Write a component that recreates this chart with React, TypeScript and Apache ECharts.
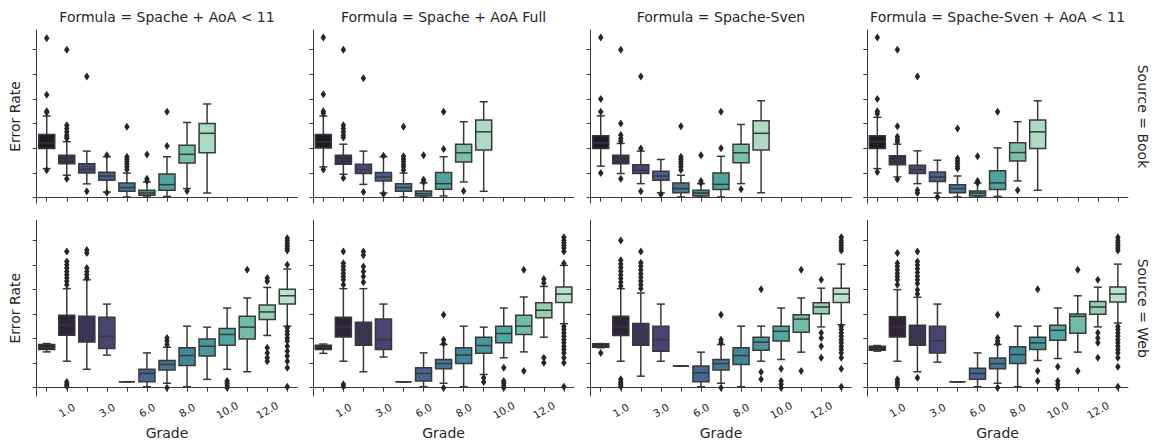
import React, { useEffect, useRef } from "react";
import * as echarts from "echarts";

// ---------------- data ----------------
const grades = ["0.0", "1.0", "2.0", "3.0", "5.0", "6.0", "7.0", "8.0", "9.0", "10.0", "11.0", "12.0", "13.0"];
const formulas = ["Spache + AoA < 11", "Spache + AoA Full", "Spache-Sven", "Spache-Sven + AoA < 11"];
const sources = ["Book", "Web"];
const yTicks = [0, 0.1, 0.2, 0.3, 0.4, 0.5, 0.6];

// mako palettes, desaturated to 0.75 like seaborn's boxplot
const bookPalette = ["#221928", "#382F50", "#484876", "#45608B", "#447795", "#448D9A", "#4EA59F", "#79C0AA", "#ACDAC2"];
const webPalette = ["#241B2D", "#2E2237", "#3A3455", "#484573", "#465682", "#446691", "#447795", "#428799", "#48979C", "#4FA8A1", "#71BCA9", "#94CFB1", "#BAE1CC"];

// box stats: [min whisker, Q1, median, Q3, max whisker]
const bookStatsAoA11 = [
  [0.118, 0.199, 0.222, 0.256, 0.331], [0.091, 0.138, 0.155, 0.172, 0.227], [0.056, 0.1, 0.115, 0.138, 0.189],
  [0.023, 0.071, 0.088, 0.103, 0.166], [0.003, 0.026, 0.041, 0.06, 0.1], [0.003, 0.01, 0.019, 0.03, 0.064],
  [0.005, 0.03, 0.053, 0.096, 0.166], [0.037, 0.141, 0.176, 0.213, 0.305], [0.019, 0.182, 0.261, 0.301, 0.38],
];
const bookStatsAoAFull = [
  [0.125, 0.202, 0.227, 0.256, 0.331], [0.095, 0.136, 0.155, 0.172, 0.217], [0.054, 0.098, 0.114, 0.136, 0.189],
  [0.019, 0.068, 0.084, 0.102, 0.166], [0.003, 0.026, 0.041, 0.057, 0.1], [0.003, 0.007, 0.016, 0.027, 0.06],
  [0.007, 0.034, 0.057, 0.102, 0.166], [0.064, 0.145, 0.182, 0.217, 0.308], [0.026, 0.193, 0.267, 0.315, 0.389],
];
const bookStatsSven = [
  [0.128, 0.199, 0.222, 0.251, 0.332], [0.098, 0.138, 0.155, 0.172, 0.22], [0.057, 0.098, 0.111, 0.134, 0.189],
  [0.02, 0.071, 0.088, 0.107, 0.155], [0.003, 0.02, 0.037, 0.06, 0.091], [0.003, 0.007, 0.019, 0.03, 0.057],
  [0.003, 0.033, 0.054, 0.1, 0.168], [0.057, 0.142, 0.182, 0.217, 0.297], [0.02, 0.193, 0.261, 0.312, 0.393],
];
const bookStatsSvenAoA11 = [
  [0.118, 0.199, 0.227, 0.251, 0.326], [0.084, 0.134, 0.152, 0.17, 0.217], [0.057, 0.098, 0.114, 0.132, 0.19],
  [0.019, 0.066, 0.084, 0.104, 0.152], [0.003, 0.02, 0.037, 0.053, 0.088], [0.003, 0.007, 0.019, 0.027, 0.06],
  [0.005, 0.033, 0.06, 0.109, 0.202], [0.068, 0.149, 0.183, 0.223, 0.308], [0.03, 0.199, 0.267, 0.315, 0.393],
];

const webStatsAoA11 = [
  [0.146, 0.156, 0.165, 0.176, 0.18], [0.108, 0.214, 0.255, 0.295, 0.404], [0.075, 0.186, 0.226, 0.291, 0.44],
  [0.133, 0.16, 0.21, 0.287, 0.341], [0.024, 0.024, 0.024, 0.024, 0.024], [0.004, 0.024, 0.058, 0.075, 0.142],
  [0.018, 0.072, 0.095, 0.111, 0.165], [0.004, 0.091, 0.131, 0.163, 0.251], [0.034, 0.129, 0.169, 0.199, 0.247],
  [0.075, 0.173, 0.217, 0.241, 0.325], [0.065, 0.199, 0.247, 0.291, 0.366], [0.213, 0.278, 0.309, 0.337, 0.409],
  [0.251, 0.341, 0.375, 0.402, 0.484],
];
const webStatsAoAFull = [
  [0.14, 0.156, 0.165, 0.173, 0.178], [0.108, 0.207, 0.248, 0.287, 0.404], [0.065, 0.173, 0.217, 0.267, 0.404],
  [0.125, 0.156, 0.196, 0.28, 0.341], [0.024, 0.024, 0.024, 0.024, 0.024], [0.004, 0.027, 0.058, 0.081, 0.142],
  [0.018, 0.077, 0.098, 0.115, 0.176], [0.004, 0.099, 0.133, 0.163, 0.251], [0.054, 0.14, 0.172, 0.206, 0.247],
  [0.122, 0.183, 0.221, 0.251, 0.325], [0.146, 0.217, 0.251, 0.295, 0.37], [0.206, 0.285, 0.316, 0.346, 0.413],
  [0.261, 0.348, 0.382, 0.411, 0.499],
];
const webStatsSven = [
  [0.163, 0.165, 0.172, 0.179, 0.18], [0.108, 0.213, 0.248, 0.291, 0.404], [0.047, 0.173, 0.213, 0.262, 0.386],
  [0.108, 0.149, 0.196, 0.251, 0.341], [0.088, 0.088, 0.088, 0.088, 0.088], [0.004, 0.024, 0.061, 0.088, 0.145],
  [0.018, 0.072, 0.098, 0.115, 0.176], [0.004, 0.095, 0.131, 0.163, 0.251], [0.108, 0.153, 0.186, 0.206, 0.251],
  [0.115, 0.19, 0.23, 0.251, 0.325], [0.145, 0.226, 0.28, 0.298, 0.366], [0.248, 0.302, 0.329, 0.346, 0.406],
  [0.257, 0.348, 0.382, 0.406, 0.504],
];
const webStatsSvenAoA11 = [
  [0.149, 0.153, 0.161, 0.169, 0.172], [0.108, 0.207, 0.248, 0.289, 0.4], [0.065, 0.173, 0.21, 0.255, 0.369],
  [0.104, 0.142, 0.192, 0.251, 0.341], [0.024, 0.024, 0.024, 0.024, 0.024], [0.004, 0.034, 0.058, 0.079, 0.142],
  [0.018, 0.077, 0.098, 0.121, 0.176], [0.004, 0.099, 0.135, 0.167, 0.251], [0.111, 0.156, 0.183, 0.206, 0.251],
  [0.119, 0.194, 0.234, 0.255, 0.325], [0.145, 0.222, 0.291, 0.301, 0.375], [0.248, 0.3, 0.329, 0.352, 0.41],
  [0.264, 0.35, 0.382, 0.411, 0.504],
];

// outliers: [grade index, error rate]
const bookOutAoA11 = [
  [0, 0.647], [0, 0.417], [0, 0.351], [0, 0.345], [0, 0.111],
  [1, 0.6], [1, 0.294], [1, 0.281], [1, 0.267], [1, 0.254], [1, 0.247], [1, 0.24], [1, 0.077],
  [2, 0.491], [2, 0.026], [3, 0.172], [3, 0.02],
  [4, 0.288], [4, 0.166], [4, 0.156], [4, 0.146], [4, 0.136], [4, 0.125], [4, 0.114],
  [5, 0.175], [5, 0.077], [5, 0.068], [6, 0.349], [6, 0.21], [7, 0.027],
];
const bookOutAoAFull = [
  [0, 0.65], [0, 0.419], [0, 0.351], [0, 0.342], [0, 0.114],
  [1, 0.6], [1, 0.294], [1, 0.281], [1, 0.267], [1, 0.254], [1, 0.244], [1, 0.08],
  [2, 0.484], [2, 0.023], [3, 0.17], [3, 0.015],
  [4, 0.288], [4, 0.168], [4, 0.157], [4, 0.147], [4, 0.136], [4, 0.125], [4, 0.112],
  [5, 0.172], [5, 0.073], [5, 0.064], [6, 0.349], [6, 0.197], [7, 0.027],
];
const bookOutSven = [
  [0, 0.65], [0, 0.4], [0, 0.349], [0, 0.1],
  [1, 0.6], [1, 0.301], [1, 0.254], [1, 0.24], [1, 0.23], [1, 0.077],
  [2, 0.491], [2, 0.199], [2, 0.026], [3, 0.014],
  [4, 0.29], [4, 0.166], [4, 0.156], [4, 0.146], [4, 0.136], [4, 0.125], [4, 0.112],
  [5, 0.172], [5, 0.068], [5, 0.06], [6, 0.349], [6, 0.2], [7, 0.034],
];
const bookOutSvenAoA11 = [
  [0, 0.65], [0, 0.4], [0, 0.351], [0, 0.34], [0, 0.104],
  [1, 0.6], [1, 0.29], [1, 0.247], [1, 0.237], [1, 0.227], [1, 0.075],
  [2, 0.491], [2, 0.03], [2, 0.019], [3, 0.003],
  [4, 0.281], [4, 0.159], [4, 0.149], [4, 0.139], [4, 0.128], [4, 0.118],
  [5, 0.168], [5, 0.068], [5, 0.06], [6, 0.349], [7, 0.03],
];

const webOutAoA11 = [
  [1, 0.556], [1, 0.515], [1, 0.501], [1, 0.488], [1, 0.474], [1, 0.461], [1, 0.447], [1, 0.434], [1, 0.42], [1, 0.023], [1, 0.014], [1, 0.007],
  [2, 0.562], [2, 0.549], [2, 0.488], [2, 0.474], [2, 0.461], [2, 0.447],
  [6, 0.203], [6, 0.19], [6, 0.176], [6, 0.0],
  [9, 0.027], [9, 0.018], [9, 0.009], [9, 0.0], [10, 0.481],
  [11, 0.447], [11, 0.434], [11, 0.163], [11, 0.142], [11, 0.122], [11, 0.108],
  [12, 0.61], [12, 0.6], [12, 0.589], [12, 0.579], [12, 0.569], [12, 0.56], [12, 0.501], [12, 0.244], [12, 0.23], [12, 0.217],
  [12, 0.203], [12, 0.19], [12, 0.169], [12, 0.149], [12, 0.129], [12, 0.108], [12, 0.081], [12, 0.004],
];
const webOutAoAFull = [
  [1, 0.556], [1, 0.508], [1, 0.494], [1, 0.481], [1, 0.467], [1, 0.454], [1, 0.44], [1, 0.42], [1, 0.014], [1, 0.005],
  [2, 0.556], [2, 0.54], [2, 0.494], [2, 0.474], [2, 0.454], [2, 0.43],
  [6, 0.298], [6, 0.196], [6, 0.18], [6, 0.0], [8, 0.041], [8, 0.023],
  [9, 0.081], [9, 0.027], [9, 0.018], [9, 0.009], [9, 0.0], [10, 0.481], [10, 0.068],
  [11, 0.443], [11, 0.427], [11, 0.122], [11, 0.102],
  [12, 0.614], [12, 0.6], [12, 0.59], [12, 0.58], [12, 0.57], [12, 0.556], [12, 0.508], [12, 0.25], [12, 0.237], [12, 0.223],
  [12, 0.21], [12, 0.196], [12, 0.183], [12, 0.169], [12, 0.156], [12, 0.142], [12, 0.122], [12, 0.102], [12, 0.004],
];
const webOutSven = [
  [0, 0.142],
  [1, 0.6], [1, 0.52], [1, 0.505], [1, 0.49], [1, 0.475], [1, 0.46], [1, 0.445], [1, 0.43], [1, 0.415], [1, 0.034], [1, 0.023], [1, 0.014], [1, 0.005],
  [2, 0.556], [2, 0.51], [2, 0.495], [2, 0.48], [2, 0.465], [2, 0.45], [2, 0.435], [2, 0.42], [2, 0.405],
  [6, 0.298], [6, 0.196], [6, 0.183], [6, 0.0], [8, 0.402], [8, 0.064], [8, 0.034],
  [9, 0.077], [9, 0.027], [9, 0.014], [9, 0.0], [10, 0.481], [10, 0.068],
  [11, 0.44], [11, 0.224], [11, 0.203], [11, 0.169], [11, 0.122],
  [12, 0.614], [12, 0.6], [12, 0.59], [12, 0.58], [12, 0.57], [12, 0.56], [12, 0.25], [12, 0.237], [12, 0.223],
  [12, 0.21], [12, 0.196], [12, 0.183], [12, 0.169], [12, 0.156], [12, 0.142], [12, 0.122], [12, 0.077], [12, 0.004],
];
const webOutSvenAoA11 = [
  [1, 0.549], [1, 0.508], [1, 0.494], [1, 0.481], [1, 0.467], [1, 0.454], [1, 0.44], [1, 0.42], [1, 0.034], [1, 0.023], [1, 0.014], [1, 0.004],
  [2, 0.556], [2, 0.515], [2, 0.5], [2, 0.485], [2, 0.47], [2, 0.455], [2, 0.44], [2, 0.425], [2, 0.4], [2, 0.382], [2, 0.041],
  [6, 0.298], [6, 0.203], [6, 0.19], [6, 0.18], [6, 0.0], [8, 0.402], [8, 0.068], [8, 0.027],
  [9, 0.085], [9, 0.027], [9, 0.014], [9, 0.0], [10, 0.481], [10, 0.068],
  [11, 0.44], [11, 0.224], [11, 0.203], [11, 0.183], [11, 0.122],
  [12, 0.614], [12, 0.6], [12, 0.59], [12, 0.58], [12, 0.57], [12, 0.56], [12, 0.25], [12, 0.237], [12, 0.223],
  [12, 0.21], [12, 0.196], [12, 0.183], [12, 0.169], [12, 0.156], [12, 0.142], [12, 0.122], [12, 0.085], [12, 0.004],
];

const bookStats = [bookStatsAoA11, bookStatsAoAFull, bookStatsSven, bookStatsSvenAoA11];
const webStats = [webStatsAoA11, webStatsAoAFull, webStatsSven, webStatsSvenAoA11];
const bookOut = [bookOutAoA11, bookOutAoAFull, bookOutSven, bookOutSvenAoA11];
const webOut = [webOutAoA11, webOutAoAFull, webOutSven, webOutSvenAoA11];

// ---------------- layout / style ----------------
const W = 1156;
const H = 442;
const FONT = "DejaVu Sans";
const TEXT = "#262626";
const AXIS = "#3a3a3a";
const EDGE = "#383838";
const LW = 1.5;
const colLeft = [36.7, 313.3, 590.7, 867.3];
const colWidth = 260.6;
const rowTop = [30, 220.5];
const rowHeight = [173, 175.5];
const rowMin = [-0.0215, -0.0339];
const rowMax = [0.68, 0.682];

const makeRender = (palette: string[]) => (_params: any, api: any) => {
  const i = api.value(0);
  const lo = api.coord([i, api.value(1)]);
  const q1 = api.coord([i, api.value(2)]);
  const md = api.coord([i, api.value(3)]);
  const q3 = api.coord([i, api.value(4)]);
  const hi = api.coord([i, api.value(5)]);
  const band = api.size([1, 0])[0];
  const w = band * 0.8;
  const cx = lo[0];
  const ls = { stroke: EDGE, lineWidth: LW };
  return {
    type: "group",
    children: [
      { type: "line", shape: { x1: cx, y1: q3[1], x2: cx, y2: hi[1] }, style: ls },
      { type: "line", shape: { x1: cx, y1: q1[1], x2: cx, y2: lo[1] }, style: ls },
      { type: "line", shape: { x1: cx - w / 4, y1: hi[1], x2: cx + w / 4, y2: hi[1] }, style: ls },
      { type: "line", shape: { x1: cx - w / 4, y1: lo[1], x2: cx + w / 4, y2: lo[1] }, style: ls },
      {
        type: "rect",
        shape: { x: cx - w / 2, y: q3[1], width: w, height: Math.max(q1[1] - q3[1], 0) },
        style: { fill: palette[i], stroke: EDGE, lineWidth: LW },
      },
      { type: "line", shape: { x1: cx - w / 2, y1: md[1], x2: cx + w / 2, y2: md[1] }, style: ls },
    ],
  };
};

function buildOption() {
  const grids: any[] = [];
  const xAxes: any[] = [];
  const yAxes: any[] = [];
  const series: any[] = [];
  const graphics: any[] = [];

  for (let r = 0; r < 2; r++) {
    for (let c = 0; c < 4; c++) {
      const idx = r * 4 + c;
      grids.push({ left: colLeft[c], top: rowTop[r], width: colWidth, height: rowHeight[r] });
      xAxes.push({
        type: "category",
        gridIndex: idx,
        data: grades,
        boundaryGap: true,
        axisLine: { show: true, lineStyle: { color: AXIS, width: 1 } },
        axisTick: { show: true, alignWithLabel: true, interval: 0, length: 4, lineStyle: { color: AXIS } },
        axisLabel: {
          show: r === 1,
          interval: (i: number) => i % 2 === 1,
          rotate: 30,
          fontSize: 10.5,
          fontFamily: FONT,
          color: TEXT,
          margin: 14,
          align: "center",
          verticalAlign: "middle",
        },
        splitLine: { show: false },
      });
      yAxes.push({
        type: "value",
        gridIndex: idx,
        min: rowMin[r],
        max: rowMax[r],
        axisLine: { show: true, lineStyle: { color: AXIS, width: 1 } },
        axisTick: { show: true, length: 4, customValues: yTicks, lineStyle: { color: AXIS } },
        axisLabel: { show: false },
        splitLine: { show: false },
      });
      const stats = r === 0 ? bookStats[c] : webStats[c];
      const outs = r === 0 ? bookOut[c] : webOut[c];
      const palette = r === 0 ? bookPalette : webPalette;
      series.push({
        type: "custom",
        xAxisIndex: idx,
        yAxisIndex: idx,
        z: 2,
        renderItem: makeRender(palette),
        encode: { x: 0, y: [1, 2, 3, 4, 5] },
        data: stats.map((s, i) => [i, ...s]),
      });
      series.push({
        type: "scatter",
        xAxisIndex: idx,
        yAxisIndex: idx,
        z: 3,
        symbol: "diamond",
        symbolSize: [5.5, 8],
        itemStyle: { color: "#262626", opacity: 1 },
        data: outs,
      });
    }
  }

  for (let c = 0; c < 4; c++) {
    const cx = colLeft[c] + colWidth / 2;
    graphics.push({
      type: "text",
      x: cx,
      y: 17,
      style: { text: `Formula = ${formulas[c]}`, align: "center", verticalAlign: "middle", fontSize: 14, fontFamily: FONT, fill: TEXT },
    });
    graphics.push({
      type: "text",
      x: cx,
      y: 433,
      style: { text: "Grade", align: "center", verticalAlign: "middle", fontSize: 14, fontFamily: FONT, fill: TEXT },
    });
  }
  for (let r = 0; r < 2; r++) {
    const cy = rowTop[r] + rowHeight[r] / 2;
    graphics.push({
      type: "text",
      x: 15,
      y: cy,
      rotation: Math.PI / 2,
      style: { text: "Error Rate", align: "center", verticalAlign: "middle", fontSize: 14, fontFamily: FONT, fill: TEXT },
    });
    graphics.push({
      type: "text",
      x: 1143,
      y: cy,
      rotation: -Math.PI / 2,
      style: { text: `Source = ${sources[r]}`, align: "center", verticalAlign: "middle", fontSize: 14, fontFamily: FONT, fill: TEXT },
    });
  }

  return {
    animation: false,
    backgroundColor: "#ffffff",
    grid: grids,
    xAxis: xAxes,
    yAxis: yAxes,
    series,
    graphic: graphics,
  };
}

export default function App() {
  const ref = useRef<HTMLDivElement>(null);
  useEffect(() => {
    document.body.style.margin = "0";
    if (!ref.current) return;
    const chart = echarts.init(ref.current, undefined, { renderer: "svg" });
    chart.setOption(buildOption() as any);
    return () => chart.dispose();
  }, []);
  return <div ref={ref} style={{ width: W, height: H }} />;
}
